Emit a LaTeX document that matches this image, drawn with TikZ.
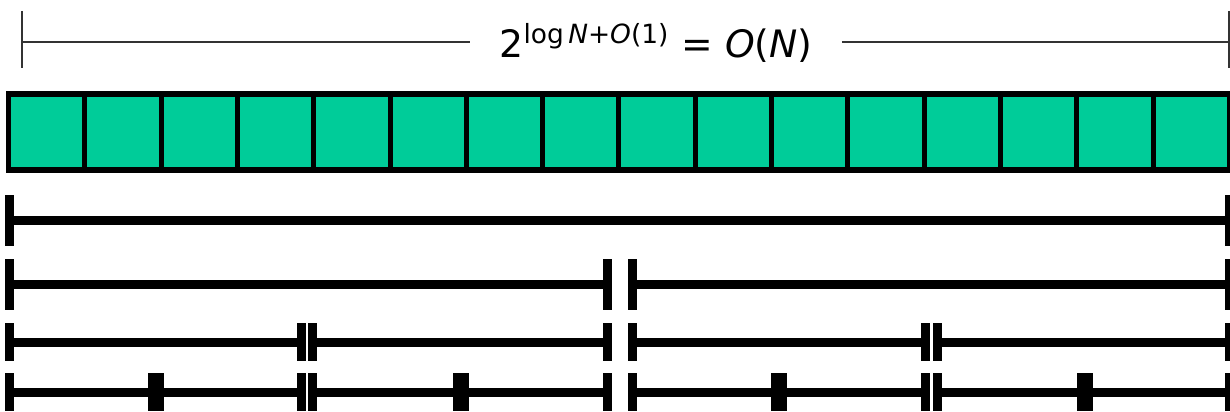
\documentclass[tikz,border=0pt]{standalone}
\usepackage{fontspec}
\setmainfont{DejaVu Sans}
\usetikzlibrary{calc}
\definecolor{cellgreen}{RGB}{0,204,153}

\begin{document}
\begin{tikzpicture}[x=0.02cm,y=-0.02cm,
  dimline/.style={draw=black!80,line width=0.03cm},
  cell/.style={fill=cellgreen,draw=black,line width=0.1cm},
  segline/.style={line width=0.18cm}]
\useasboundingbox (0,0) rectangle (1230,412);

% size of the whole array
\coordinate (dimL) at (22,42);
\coordinate (dimR) at (1229,42);
\node[font=\fontsize{21.5}{26}\selectfont,inner xsep=0.58cm] (span) at (656,43)
  {2\textsuperscript{log\,\textit{N}+\textit{O}(1)} = \textit{O}(\textit{N})};
\draw[dimline] (dimL) -- (span.west |- dimL);
\draw[dimline] (span.east |- dimR) -- (dimR);
\draw[dimline] ($(dimL)+(0,-31)$) -- ($(dimL)+(0,26)$);
\draw[dimline] ($(dimR)+(0,-31)$) -- ($(dimR)+(0,26)$);

% the cells
\foreach \i in {0,...,15}
  \draw[cell] ({8.5+\i*76.31},94) rectangle ++(76.31,76);
\draw[line width=0.12cm] (8.5,94) rectangle (1229.5,170);

% halving, level by level
\foreach \y/\h/\segs in {220/51/{9/1229.5},
    284.5/51/{9/607.5,632.5/1229.5},
    342/38/{9/301.5,312.5/607.5,632.5/925.5,937.5/1229.5},
    392/38/{9/152,159/301.5,312.5/457.5,464.5/607.5,632.5/775.5,782.5/925.5,937.5/1081,1088/1229.5}}
  \foreach \a/\b in \segs {
    \draw[segline] (\a,\y) -- (\b,\y);
    \fill (\a-4.5,{\y-\h/2}) rectangle ++(9,\h);
    \fill (\b-4.5,{\y-\h/2}) rectangle ++(9,\h);
  };
\end{tikzpicture}
\end{document}
